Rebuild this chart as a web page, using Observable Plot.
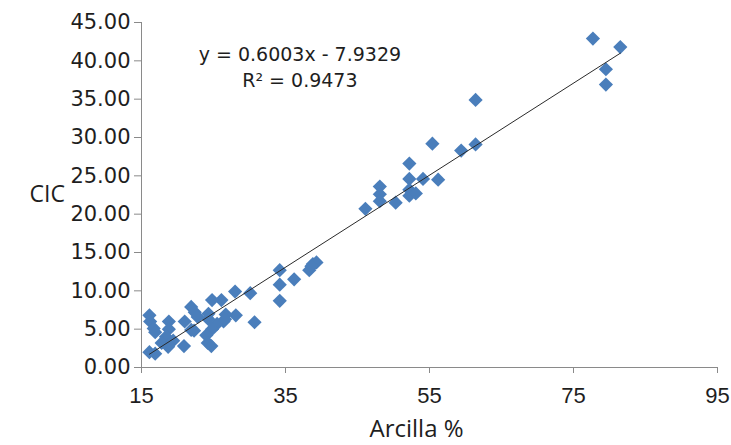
<!DOCTYPE html>
<html>
<head>
<meta charset="utf-8">
<script src="https://cdn.jsdelivr.net/npm/d3@7"></script>
<script src="https://cdn.jsdelivr.net/npm/@observablehq/plot@0.6"></script>
<style>
  html, body { margin: 0; padding: 0; background: #fff; }
</style>
</head>
<body>
<div id="chart"></div>
<script>
// Arcilla % (x) and CIC (y)
const arcilla = [
  77.7, 81.5, 79.5, 79.5, 61.4, 61.4, 55.4, 59.4,
  52.2, 52.2, 54.1, 56.2, 52.2, 52.2, 53.1,
  48.1, 48.1, 48.1, 50.3, 46.1,
  34.2, 34.2, 34.2, 36.2, 38.3, 38.8, 39.3, 38.6,
  30.1, 30.7, 28.0, 28.1,
  26.1, 24.8, 26.7, 26.4, 25.5, 24.8, 24.3, 24.3, 24.0, 24.2, 24.7, 26.6,
  21.9, 22.4, 22.8, 21.0, 21.9, 22.3, 20.9,
  18.8, 18.8, 18.4, 17.8, 18.7, 19.4,
  16.1, 16.2, 16.7, 16.9, 16.1, 16.9
];
const cic = [
  42.9, 41.8, 38.9, 36.9, 34.9, 29.1, 29.2, 28.3,
  26.6, 24.6, 24.6, 24.5, 23.2, 22.4, 22.7,
  23.6, 22.6, 21.7, 21.5, 20.7,
  12.7, 10.8, 8.7, 11.5, 12.7, 13.5, 13.7, 13.2,
  9.7, 5.9, 9.9, 6.8,
  8.8, 8.8, 6.9, 6.0, 5.7, 5.0, 7.0, 6.3, 4.2, 3.2, 2.8, 6.3,
  7.9, 7.2, 6.6, 6.0, 4.9, 4.8, 2.8,
  6.0, 5.0, 4.0, 3.2, 2.7, 3.5,
  6.8, 6.0, 5.1, 4.6, 2.0, 1.8
];
const xTicks = [15, 35, 55, 75, 95];
const yTicks = [0, 5, 10, 15, 20, 25, 30, 35, 40, 45];
const slope = 0.6003;
const intercept = -7.9329;
const r2 = 0.9473;
const xTitle = "Arcilla %";
const yTitle = "CIC";

const points = arcilla.map((x, i) => ({x, y: cic[i]}));
const xr = d3.extent(arcilla);
const trend = xr.map(x => ({x, y: slope * x + intercept}));
const eq1 = `y = ${slope.toFixed(4)}x - ${Math.abs(intercept).toFixed(4)}`;
const eq2 = `R² = ${r2.toFixed(4)}`;

const axisGray = "#8a8a8a";
const textColor = "#1e1e1e";

const chart = Plot.plot({
  width: 731,
  height: 445,
  marginLeft: 141,
  marginRight: 14,
  marginTop: 22,
  marginBottom: 78,
  style: {background: "#fff", color: textColor},
  x: {domain: [15, 95]},
  y: {domain: [0, 45]},
  marks: [
    Plot.ruleY([0], {stroke: axisGray}),
    Plot.ruleX([15], {stroke: axisGray}),
    Plot.axisY({
      ticks: yTicks, tickFormat: d3.format(".2f"), tickSize: 7, tickPadding: 4,
      stroke: axisGray, fill: textColor, fontSize: 21, fontFamily: "DejaVu Sans", label: null
    }),
    Plot.axisX({
      ticks: xTicks, tickFormat: d => String(d), tickSize: 6, tickPadding: 14,
      stroke: axisGray, fill: textColor, fontSize: 22, fontFamily: "Liberation Sans, Arial", label: null
    }),
    Plot.dot(points, {x: "x", y: "y", symbol: "diamond2", r: 6.4, fill: "#4a7ebb"}),
    Plot.line(trend, {x: "x", y: "y", stroke: "#2a2a2a", strokeWidth: 1}),
    Plot.text([eq1], {x: 37, y: 40, text: d => d, lineAnchor: "bottom", fontSize: 19, fontFamily: "DejaVu Sans", fill: textColor}),
    Plot.text([eq2], {x: 37, y: 36.65, text: d => d, lineAnchor: "bottom", fontSize: 19, fontFamily: "DejaVu Sans", fill: textColor}),
    Plot.text([yTitle], {frameAnchor: "left", dx: -112, text: d => d, fontSize: 23, fontFamily: "Open Sans", fill: textColor}),
    Plot.text([xTitle], {frameAnchor: "bottom", dx: -13, dy: 69, lineAnchor: "bottom", text: d => d, fontSize: 24, fontFamily: "Open Sans", fill: textColor})
  ]
});
document.getElementById("chart").append(chart);
</script>
</body>
</html>
